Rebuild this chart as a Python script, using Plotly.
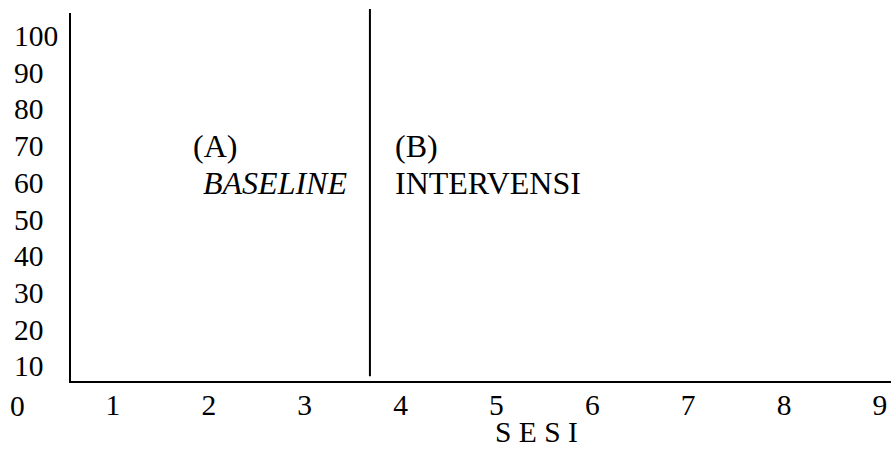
import plotly.graph_objects as go

# Data / labels
sessions = [1, 2, 3, 4, 5, 6, 7, 8, 9]
session_labels = ["1", "2", "3", "4", "5", "6", "7", "8", "9"]
y_ticks = [10, 20, 30, 40, 50, 60, 70, 80, 90, 100]
y_tick_labels = ["10", "20", "30", "40", "50", "60", "70", "80", "90", "100"]
origin_label = "0"
phase_boundary = 3.68
phase_a = ["(A)", "<i>BASELINE</i>"]
phase_b = ["(B)", "INTERVENSI"]
x_title = "S E S I"

FONT = "Liberation Serif"
FS = 29.5
FT = 32

fig = go.Figure()
fig.add_trace(go.Scatter(x=[None], y=[None], mode="lines", showlegend=False, hoverinfo="skip"))

fig.update_layout(
    width=891, height=458,
    margin=dict(l=71, r=0, t=13, b=77, autoexpand=False),
    plot_bgcolor="white", paper_bgcolor="white",
    font=dict(family=FONT, size=FS, color="black"),
    showlegend=False,
    xaxis=dict(
        range=[0.562, 9.115], showline=True, linecolor="black", linewidth=2,
        showgrid=False, zeroline=False, ticks="", automargin=False,
        tickvals=sessions, ticktext=session_labels, ticklabeloverflow="allow",
        ticklabelstandoff=-3,
        tickfont=dict(family=FONT, size=FS, color="black"),
    ),
    yaxis=dict(
        range=[6, 106.27], showline=True, linecolor="black", linewidth=2,
        showgrid=False, zeroline=False, ticks="", showticklabels=False,
        automargin=False,
    ),
)

annotations = []
for v, t in zip(y_ticks, y_tick_labels):
    annotations.append(dict(
        x=-59 / 820, xref="paper", xanchor="left",
        y=v, yref="y", yanchor="middle",
        text=t, showarrow=False, font=dict(family=FONT, size=FS, color="black"),
    ))
annotations.append(dict(
    x=-54 / 820, xref="paper", xanchor="center",
    y=0, yref="paper", yanchor="top", yshift=-7,
    text=origin_label, showarrow=False, font=dict(family=FONT, size=FS, color="black"),
))
for i, (txt, yv) in enumerate(zip(phase_a, [70, 60])):
    annotations.append(dict(
        x=1.81 if i == 0 else 1.92, xref="x", xanchor="left",
        y=yv, yref="y", yanchor="middle",
        text=txt, showarrow=False, font=dict(family=FONT, size=FT, color="black"),
    ))
for txt, yv in zip(phase_b, [70, 60]):
    annotations.append(dict(
        x=3.92, xref="x", xanchor="left",
        y=yv, yref="y", yanchor="middle",
        text=txt, showarrow=False, font=dict(family=FONT, size=FT, color="black"),
    ))
annotations.append(dict(
    x=4.96, xref="x", xanchor="left",
    y=0, yref="paper", yanchor="top", yshift=-33,
    text=x_title, showarrow=False, font=dict(family=FONT, size=FS, color="black"),
))
fig.update_layout(annotations=annotations)

fig.add_shape(
    type="line", xref="x", yref="paper",
    x0=phase_boundary, x1=phase_boundary, y0=0.0128, y1=1.011,
    line=dict(color="black", width=2),
)

fig.write_html(
    "out.html",
    config={"displayModeBar": False},
    post_script="document.body.style.margin='0';document.body.style.overflow='hidden';",
)
